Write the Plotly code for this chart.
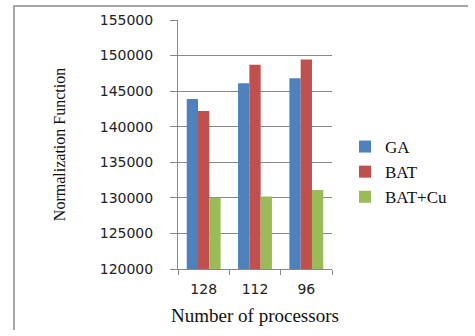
import plotly.graph_objects as go

categories = ["128", "112", "96"]
ga = [143900, 146100, 146800]
bat = [142200, 148700, 149450]
bat_cuckoo = [130000, 130200, 131100]
y_ticks = [120000, 125000, 130000, 135000, 140000, 145000, 150000, 155000]

W, H = 475, 336
L, R, T, B = 178, 143, 20, 67
pw, ph = W - L - R, H - T - B

fig = go.Figure()
for name, vals, col in [("GA", ga, "#4F81BD"), ("BAT", bat, "#C0504D"), ("BAT+Cu", bat_cuckoo, "#9BBB59")]:
    fig.add_trace(go.Bar(x=categories, y=vals, name=name, marker=dict(color=col, line=dict(width=0))))

def px(x):
    return (x - L) / pw

def py(y):
    return (H - B - y) / ph

# outer frame: left and top edges as one open path
frame_path = "M {:.4f},{:.4f} L {:.4f},{:.4f} L {:.4f},{:.4f}".format(
    px(14), py(330), px(14), py(6), px(468), py(6))
fig.add_shape(type="path", xref="paper", yref="paper", path=frame_path,
              line=dict(color="#8a8a8a", width=1.5), fillcolor="rgba(0,0,0,0)", layer="above")

fig.update_layout(
    width=W, height=H,
    margin=dict(l=L, r=R, t=T, b=B, autoexpand=False),
    paper_bgcolor="white", plot_bgcolor="white",
    barmode="group", bargap=0.34, bargroupgap=0,
    showlegend=True,
    legend=dict(x=px(345), y=py(129), xanchor="left", yanchor="top",
                font=dict(family="Liberation Serif", size=17, color="#111"),
                bgcolor="rgba(0,0,0,0)", tracegroupgap=0),
    xaxis=dict(type="category", showline=True, linecolor="#888", linewidth=1,
               ticks="outside", tickson="boundaries", ticklen=5, tickcolor="#888",
               ticklabelstandoff=7,
               tickfont=dict(family="DejaVu Sans", size=14, color="#222"),
               title=dict(text="Number of processors", standoff=12,
                          font=dict(family="Liberation Serif", size=19, color="#111"))),
    yaxis=dict(range=[120000, 155000], tickvals=y_ticks, tickformat="d",
               showline=True, linecolor="#888", linewidth=1,
               showgrid=True, gridcolor="#888", gridwidth=1,
               ticks="outside", ticklen=7, tickcolor="#888",
               ticklabelstandoff=14,
               tickfont=dict(family="DejaVu Sans", size=14, color="#222"),
               title=dict(text="Normalization Function", standoff=30,
                          font=dict(family="Liberation Serif", size=16, color="#111"))),
)

fig.write_html("out.html")
